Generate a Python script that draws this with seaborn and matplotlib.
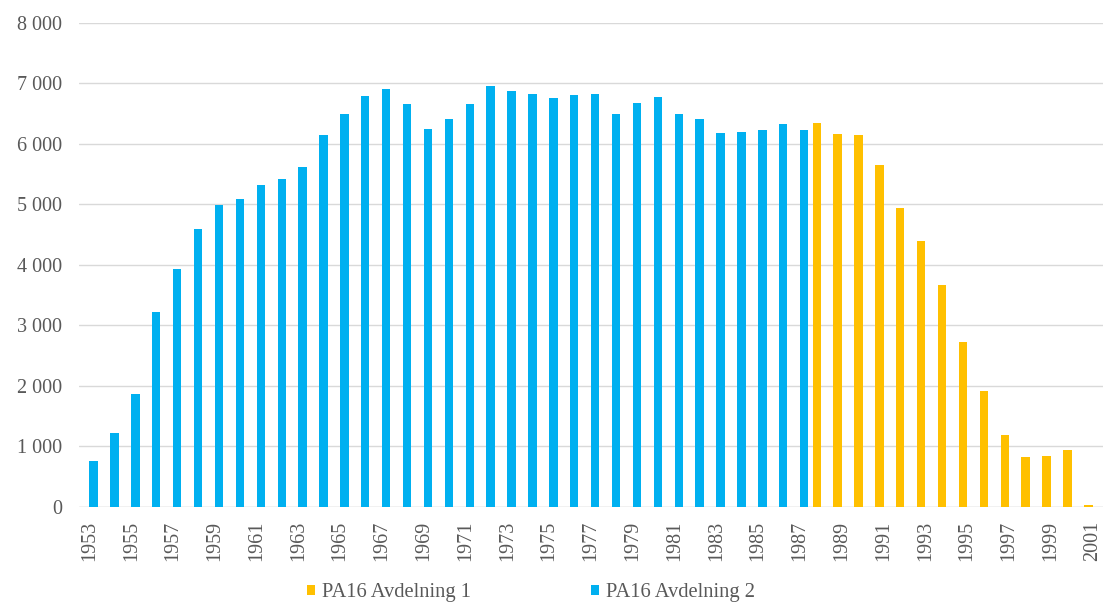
import matplotlib
matplotlib.use("Agg")
import matplotlib.pyplot as plt
import seaborn as sns
import pandas as pd
from matplotlib.ticker import FuncFormatter, FixedLocator

years_avd2 = list(range(1953, 1988))
values_avd2 = [760, 1215, 1870, 3220, 3930, 4600, 4985, 5090, 5315, 5425,
               5620, 6155, 6490, 6795, 6915, 6665, 6245, 6405, 6665, 6955,
               6870, 6825, 6760, 6810, 6825, 6500, 6680, 6775, 6500, 6405,
               6178, 6198, 6228, 6322, 6228]
years_avd1 = list(range(1988, 2002))
values_avd1 = [6355, 6160, 6143, 5645, 4946, 4400, 3672, 2730, 1910, 1195,
               830, 840, 950, 30]
series_names = ["PA16 Avdelning 1", "PA16 Avdelning 2"]
colors = ["#FFC000", "#00B0F0"]
all_years = list(range(1953, 2002))

df = pd.DataFrame({
    "year": [str(y) for y in years_avd1 + years_avd2],
    "value": values_avd1 + values_avd2,
    "series": [series_names[0]] * len(years_avd1) + [series_names[1]] * len(years_avd2),
})

sns.set_theme(style="white")
plt.rcParams["font.family"] = ["Liberation Serif", "DejaVu Serif"]

fig = plt.figure(figsize=(11.03, 6.03), dpi=100)
ax = fig.add_axes([0.0716, 0.1592, 0.9284, 0.8027])

sns.barplot(data=df, x="year", y="value", hue="series",
            order=[str(y) for y in all_years], hue_order=series_names,
            palette=colors, width=0.8, dodge=True, linewidth=0,
            errorbar=None, ax=ax, legend=True, saturation=1)

ax.set_ylim(0, 8000)
ax.set_xlim(-0.5, len(all_years) - 0.5)
ax.yaxis.set_major_locator(FixedLocator(range(0, 8001, 1000)))
ax.yaxis.set_major_formatter(FuncFormatter(lambda v, p: f"{v:,.0f}".replace(",", " ")))
ax.grid(axis="y", color="#d9d9d9", linewidth=1.0)
ax.set_axisbelow(True)
for s in ["top", "right", "left", "bottom"]:
    ax.spines[s].set_visible(False)
ax.axhline(0, color="#d9d9d9", linewidth=1.0, zorder=0)

labels = [str(y) if (y - 1953) % 2 == 0 else "" for y in all_years]
ax.set_xticks(range(len(all_years)))
ax.set_xticklabels(labels, rotation=90, fontsize=14.5, color="#595959")
ax.tick_params(axis="y", labelsize=14.5, labelcolor="#595959", length=0, pad=12)
ax.tick_params(axis="x", length=0, pad=10)
ax.set_xlabel("")
ax.set_ylabel("")

leg = ax.get_legend()
if leg is not None:
    leg.remove()
handles, lbls = ax.get_legend_handles_labels()
fig.legend(handles, lbls, loc="center", bbox_to_anchor=(0.4814, 0.017), ncol=2,
           frameon=False, fontsize=14.8, handlelength=0.4, handleheight=0.4,
           handletextpad=0.35, columnspacing=5.8, labelcolor="#595959",
           borderpad=0, borderaxespad=0)

fig.savefig("out.png", dpi=100)
